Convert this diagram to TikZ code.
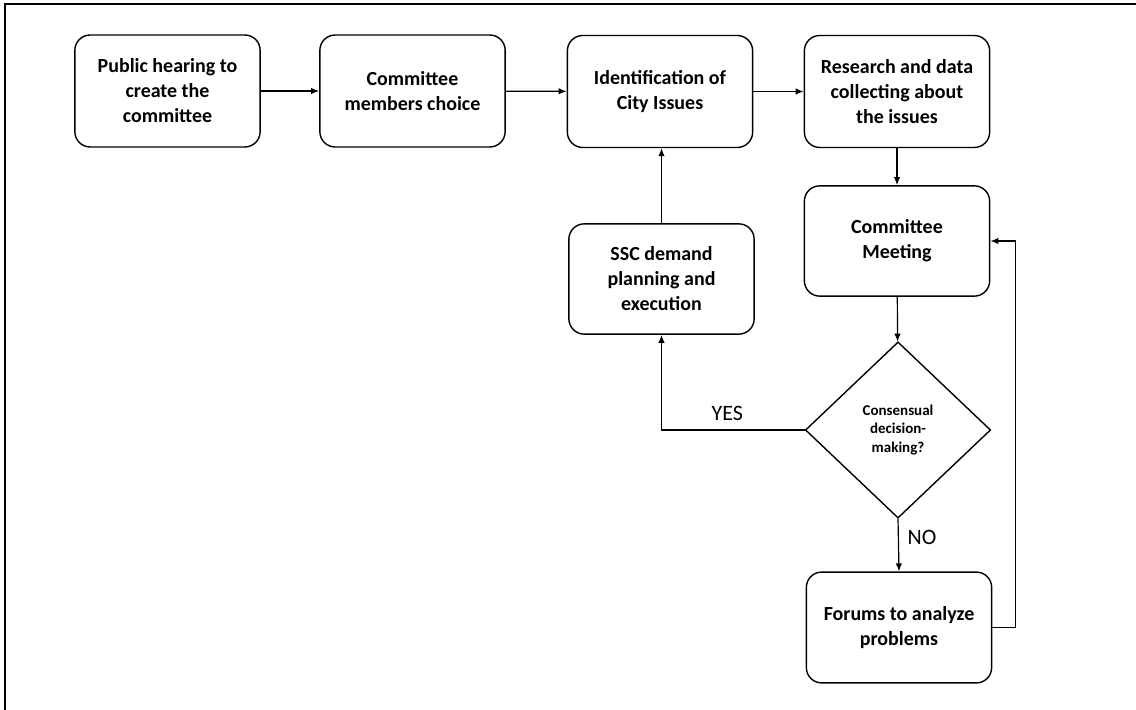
\documentclass[tikz,border=0pt]{standalone}
\usepackage{fontspec}
\setmainfont{Carlito}
\usetikzlibrary{arrows.meta,shapes.geometric}

\begin{document}
\begin{tikzpicture}[x=0.0176cm, y=-0.0176cm,
    stepbox/.style={draw, rounded corners=0.27cm, line width=0.7pt,
      minimum width=3.26cm, minimum height=1.97cm, inner sep=2pt,
      align=center, font=\fontsize{10}{12.5}\selectfont\bfseries},
    decision/.style={draw, diamond, aspect=1.05, line width=0.7pt, inner sep=0pt,
      minimum width=3.26cm, minimum height=3.1cm,
      align=center, font=\fontsize{7.5}{9.4}\selectfont\bfseries},
    arr/.style={-{Latex[length=4pt,width=3.2pt]}, line width=0.6pt},
    lbl/.style={font=\fontsize{11}{13}\selectfont}]
    \useasboundingbox (0,0) rectangle (1136,710);
    % frame (top and left edge only)
    \draw[line width=1.3pt] (5,710) -- (5,4) -- (1136,4);

    % top row
    \node[stepbox] (pub) at (167.5,91) {Public hearing to\\create the\\committee};
    \node[stepbox] (members) at (412.5,91) {Committee\\members choice};
    \node[stepbox] (issues) at (660,91.5) {Identification of\\City Issues};
    \node[stepbox] (research) at (897,91.5) {Research and data\\collecting about\\the issues};

    % loop
    \node[stepbox, minimum height=1.94cm] (meeting) at (897,241) {Committee\\Meeting};
    \node[stepbox, minimum height=1.94cm] (ssc) at (661.5,279) {SSC demand\\planning and\\execution};
    \node[decision] (dec) at (898,430) {Consensual\\decision-\\making?};
    \node[stepbox, minimum height=1.95cm] (forums) at (899,627.5) {Forums to analyze\\problems};

    \draw[arr] (pub) -- (members);
    \draw[arr] (members) -- (issues);
    \draw[arr] (issues) -- (research);
    \draw[arr] (research) -- (meeting);
    \draw[arr] (meeting) -- (dec);
    \draw[arr] (dec.west) -| node[lbl, pos=0.27, above=1pt] {YES} (ssc.south);
    \draw[arr] (ssc.north) -- (ssc.north |- issues.south);
    \draw[arr] (dec.south) -- node[lbl, right=1pt, pos=0.35] {NO} (forums.north);
    \draw[arr] (forums.east) -- ++(23,0) |- (meeting.east);
\end{tikzpicture}
\end{document}
